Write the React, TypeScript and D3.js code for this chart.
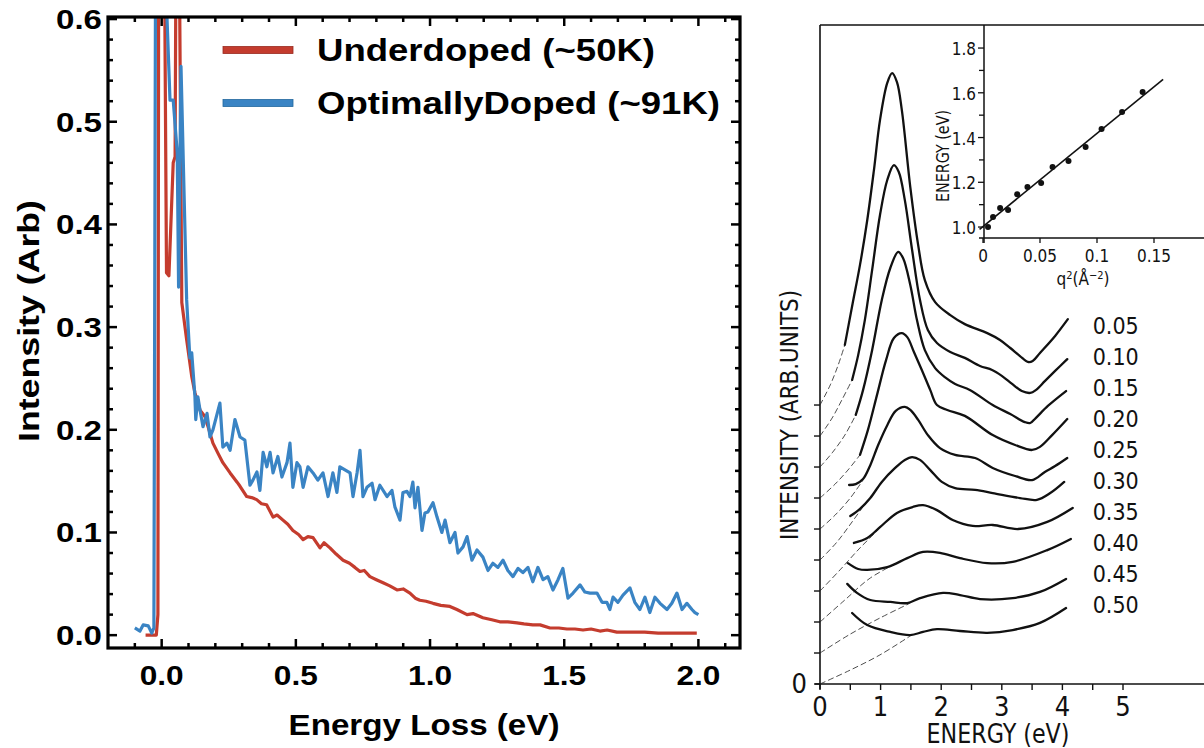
import React from "react";
import * as d3 from "d3";

// ---------------- Left panel data (Energy Loss eV, Intensity arb) ----------------
const underdoped: [number, number][] = [
  [-0.06, 0], [-0.04, 0], [-0.02, 0], [-0.014, 0.02], [-0.01, 0.95], [0.002, 1.0],
  [0.018, 0.353], [0.027, 0.35], [0.043, 0.46], [0.05, 0.466], [0.058, 0.95], [0.075, 0.324],
  [0.093, 0.288], [0.112, 0.252], [0.124, 0.236], [0.143, 0.219], [0.161, 0.213], [0.173, 0.203],
  [0.191, 0.187], [0.21, 0.177], [0.228, 0.168], [0.255, 0.158], [0.281, 0.149], [0.292, 0.145],
  [0.317, 0.135], [0.335, 0.134], [0.354, 0.132], [0.372, 0.128], [0.391, 0.127], [0.415, 0.115],
  [0.43, 0.117], [0.452, 0.112], [0.47, 0.108], [0.489, 0.102], [0.51, 0.098], [0.527, 0.093],
  [0.545, 0.096], [0.564, 0.095], [0.59, 0.085], [0.605, 0.09], [0.627, 0.085], [0.65, 0.079],
  [0.676, 0.073], [0.7, 0.07], [0.72, 0.066], [0.739, 0.062], [0.755, 0.063], [0.776, 0.057],
  [0.8, 0.054], [0.825, 0.051], [0.85, 0.048], [0.877, 0.044], [0.9, 0.045], [0.925, 0.041],
  [0.945, 0.036], [0.962, 0.034], [0.985, 0.033], [1.011, 0.031], [1.04, 0.029], [1.074, 0.028],
  [1.1, 0.025], [1.138, 0.02], [1.16, 0.021], [1.197, 0.017], [1.23, 0.015], [1.26, 0.013],
  [1.29, 0.013], [1.324, 0.012], [1.35, 0.011], [1.383, 0.01], [1.41, 0.01], [1.447, 0.007],
  [1.48, 0.007], [1.51, 0.006], [1.54, 0.006], [1.57, 0.005], [1.6, 0.006], [1.633, 0.004],
  [1.66, 0.005], [1.696, 0.003], [1.72, 0.003], [1.756, 0.003], [1.8, 0.003], [1.85, 0.002],
  [1.883, 0.002], [1.94, 0.002], [1.994, 0.002],
];

const optimallyDoped: [number, number][] = [
  [-0.1, 0.007], [-0.081, 0.004], [-0.069, 0.01], [-0.05, 0.009], [-0.037, 0.002], [-0.029, 0.007],
  [-0.02, 0.95], [0.0, 1.0], [0.012, 0.8], [0.02, 0.6], [0.031, 0.521], [0.043, 0.521],
  [0.058, 0.47], [0.063, 0.339], [0.072, 0.554], [0.093, 0.327], [0.105, 0.27], [0.112, 0.275],
  [0.124, 0.232], [0.127, 0.21], [0.135, 0.232], [0.143, 0.219], [0.154, 0.203], [0.169, 0.216],
  [0.18, 0.193], [0.191, 0.2], [0.217, 0.226], [0.228, 0.183], [0.243, 0.187], [0.255, 0.18],
  [0.273, 0.21], [0.292, 0.193], [0.31, 0.19], [0.329, 0.146], [0.34, 0.151], [0.355, 0.159],
  [0.366, 0.141], [0.378, 0.178], [0.392, 0.164], [0.404, 0.178], [0.415, 0.158], [0.433, 0.174],
  [0.448, 0.154], [0.467, 0.168], [0.478, 0.187], [0.489, 0.144], [0.504, 0.168], [0.515, 0.164],
  [0.527, 0.144], [0.545, 0.164], [0.564, 0.158], [0.582, 0.151], [0.601, 0.158], [0.62, 0.135],
  [0.638, 0.158], [0.653, 0.139], [0.664, 0.164], [0.683, 0.161], [0.702, 0.158], [0.713, 0.135],
  [0.728, 0.158], [0.739, 0.18], [0.75, 0.135], [0.765, 0.144], [0.784, 0.148], [0.795, 0.132],
  [0.813, 0.146], [0.84, 0.135], [0.858, 0.141], [0.869, 0.125], [0.888, 0.112], [0.899, 0.139],
  [0.914, 0.14], [0.925, 0.135], [0.936, 0.149], [0.944, 0.124], [0.955, 0.144], [0.97, 0.102],
  [0.981, 0.119], [0.992, 0.12], [1.011, 0.129], [1.026, 0.115], [1.044, 0.1], [1.056, 0.112],
  [1.074, 0.09], [1.093, 0.1], [1.104, 0.08], [1.123, 0.086], [1.138, 0.096], [1.156, 0.073],
  [1.175, 0.083], [1.197, 0.076], [1.216, 0.063], [1.234, 0.07], [1.253, 0.066], [1.272, 0.073],
  [1.29, 0.063], [1.309, 0.057], [1.328, 0.065], [1.346, 0.061], [1.365, 0.066], [1.383, 0.052],
  [1.402, 0.066], [1.421, 0.054], [1.439, 0.057], [1.458, 0.044], [1.477, 0.054], [1.495, 0.065],
  [1.514, 0.036], [1.533, 0.041], [1.559, 0.049], [1.577, 0.042], [1.596, 0.041], [1.622, 0.041],
  [1.641, 0.032], [1.659, 0.032], [1.67, 0.025], [1.682, 0.037], [1.7, 0.032], [1.719, 0.039],
  [1.745, 0.046], [1.763, 0.032], [1.782, 0.025], [1.801, 0.037], [1.819, 0.022], [1.838, 0.037],
  [1.857, 0.031], [1.883, 0.025], [1.901, 0.031], [1.92, 0.041], [1.939, 0.025], [1.957, 0.031],
  [1.976, 0.025], [1.987, 0.022], [2.0, 0.02],
];

const leftXTickLabels = ["0.0", "0.5", "1.0", "1.5", "2.0"];
const leftYTickLabels = ["0.0", "0.1", "0.2", "0.3", "0.4", "0.5", "0.6"];
const legendLabels = ["Underdoped (~50K)", "OptimallyDoped (~91K)"];
const legendColors = ["#c43c2e", "#3a84c4"];

// ---------------- Right panel data (ENERGY eV, intensity arb. units, offset) ----------------
const qLabels = ["0.05", "0.10", "0.15", "0.20", "0.25", "0.30", "0.35", "0.40", "0.45", "0.50"];
const curveBaselines = [9, 8, 7, 6, 5, 4, 3, 2, 1, 0];

const spectrumQ005: [number, number][] = [
  [0.41, 10.94], [0.54, 12.29], [0.66, 13.52], [0.78, 14.97], [0.89, 16.58], [0.99, 18.19],
  [1.11, 19.39], [1.19, 19.71], [1.27, 19.42], [1.35, 18.52], [1.49, 16.03], [1.62, 14.16],
  [1.73, 13.03], [1.9, 12.32], [2.15, 11.9], [2.39, 11.61], [2.76, 11.32], [2.97, 11.1],
  [3.14, 10.84], [3.3, 10.58], [3.43, 10.39], [3.51, 10.42], [3.63, 10.68], [3.88, 11.23], [4.09, 11.77],
];
const spectrumQ010: [number, number][] = [
  [0.53, 9.81], [0.63, 10.61], [0.74, 11.74], [0.86, 13.35], [0.99, 15.13], [1.11, 16.26],
  [1.22, 16.74], [1.3, 16.52], [1.4, 15.61], [1.52, 14.0], [1.65, 12.39], [1.78, 11.42],
  [1.93, 11.0], [2.15, 10.71], [2.39, 10.52], [2.64, 10.26], [2.84, 10.13], [3.0, 9.94],
  [3.17, 9.68], [3.33, 9.45], [3.47, 9.39], [3.56, 9.48], [3.71, 9.77], [3.88, 10.1], [4.08, 10.48],
];
const spectrumQ015: [number, number][] = [
  [0.59, 8.68], [0.71, 9.48], [0.86, 10.77], [1.02, 12.39], [1.16, 13.42], [1.29, 13.94],
  [1.37, 13.74], [1.49, 12.87], [1.6, 11.74], [1.73, 10.77], [1.9, 10.19], [2.06, 9.9],
  [2.23, 9.68], [2.48, 9.48], [2.85, 9.0], [3.14, 8.71], [3.38, 8.45], [3.47, 8.42],
  [3.56, 8.58], [3.76, 8.97], [4.06, 9.45],
];
const spectrumQ020: [number, number][] = [
  [0.66, 7.39], [0.79, 8.19], [0.94, 9.32], [1.09, 10.45], [1.22, 11.16], [1.35, 11.32],
  [1.44, 11.19], [1.55, 10.71], [1.68, 10.13], [1.82, 9.48], [1.93, 9.0], [2.1, 8.84],
  [2.39, 8.65], [2.85, 8.03], [3.22, 7.71], [3.5, 7.55], [3.63, 7.65], [3.83, 8.03], [4.08, 8.55],
];
const spectrumQ025: [number, number][] = [
  [0.48, 6.42], [0.59, 6.45], [0.71, 6.61], [0.83, 7.06], [0.96, 7.71], [1.11, 8.35],
  [1.25, 8.81], [1.4, 8.94], [1.49, 8.84], [1.62, 8.52], [1.78, 8.03], [1.98, 7.61],
  [2.23, 7.39], [2.56, 7.29], [2.85, 6.97], [3.22, 6.71], [3.5, 6.58], [3.71, 6.84],
  [3.88, 7.03], [4.08, 7.29],
];
const spectrumQ030: [number, number][] = [
  [0.5, 5.42], [0.66, 5.65], [0.83, 6.0], [1.02, 6.52], [1.24, 6.97], [1.4, 7.23],
  [1.52, 7.32], [1.65, 7.23], [1.82, 6.9], [2.01, 6.52], [2.23, 6.32], [2.56, 6.26],
  [2.85, 6.16], [3.3, 6.0], [3.58, 5.94], [3.8, 6.16], [4.03, 6.52],
];
const spectrumQ035: [number, number][] = [
  [0.56, 4.55], [0.78, 4.71], [0.99, 5.06], [1.27, 5.52], [1.53, 5.71], [1.7, 5.77],
  [1.93, 5.61], [2.19, 5.29], [2.52, 5.1], [2.85, 5.13], [3.27, 5.0], [3.75, 5.23], [4.17, 5.68],
];
const spectrumQ040: [number, number][] = [
  [0.46, 3.9], [0.63, 3.71], [0.78, 3.68], [1.11, 3.77], [1.44, 4.06], [1.7, 4.26],
  [1.98, 4.23], [2.31, 4.06], [2.76, 3.9], [3.18, 3.94], [3.75, 4.32], [4.14, 4.68],
];
const spectrumQ045: [number, number][] = [
  [0.45, 3.23], [0.61, 2.94], [0.83, 2.71], [1.16, 2.65], [1.44, 2.61], [1.65, 2.77],
  [2.03, 2.94], [2.31, 2.87], [2.64, 2.74], [3.18, 2.77], [3.63, 2.97], [4.06, 3.39],
];
const spectrumQ050: [number, number][] = [
  [0.53, 2.29], [0.78, 1.9], [1.16, 1.68], [1.49, 1.58], [1.7, 1.68], [1.93, 1.77],
  [2.31, 1.71], [2.76, 1.65], [3.18, 1.74], [3.63, 1.97], [4.06, 2.45],
];

const backgroundQ005: [number, number][] = [[0, 9], [0.17, 9.65], [0.3, 10.29], [0.41, 10.94]];
const backgroundQ010: [number, number][] = [[0, 8], [0.2, 8.58], [0.36, 9.16], [0.53, 9.81]];
const backgroundQ015: [number, number][] = [[0, 7], [0.21, 7.48], [0.41, 8.03], [0.59, 8.68]];
const backgroundQ020: [number, number][] = [[0, 6], [0.25, 6.45], [0.46, 6.9], [0.66, 7.39]];
const backgroundQ025: [number, number][] = [[0, 5], [0.25, 5.45], [0.5, 6.0], [0.71, 6.58]];
const backgroundQ030: [number, number][] = [[0, 4], [0.28, 4.58], [0.53, 5.23], [0.79, 5.94]];
const backgroundQ035: [number, number][] = [[0, 3], [0.33, 3.68], [0.66, 4.39], [0.96, 4.97]];
const backgroundQ040: [number, number][] = [[0, 2], [0.41, 2.71], [0.83, 3.42], [1.37, 4.0]];
const backgroundQ045: [number, number][] = [[0, 1], [0.5, 1.61], [0.99, 2.13], [1.49, 2.61]];
const backgroundQ050: [number, number][] = [[0, 0], [0.5, 0.45], [0.99, 0.94], [1.49, 1.55]];

const rightXTickLabels = ["0", "1", "2", "3", "4", "5"];

// Inset: plasmon energy vs q^2
const insetQ2 = [0.0044, 0.0088, 0.015, 0.022, 0.03, 0.039, 0.051, 0.061, 0.075, 0.09, 0.104, 0.122, 0.14];
const insetEnergy = [1.0, 1.045, 1.085, 1.076, 1.147, 1.179, 1.197, 1.268, 1.295, 1.358, 1.438, 1.514, 1.603];
const insetFit: [number, number][] = [[-0.003, 0.99], [0.158, 1.66]];
const insetYTickLabels = ["1.0", "1.2", "1.4", "1.6", "1.8"];
const insetXTickLabels = ["0", "0.05", "0.1", "0.15"];

const BOLD = "'Liberation Sans', Arial, Helvetica, sans-serif";
const NARROW = "'Liberation Sans Narrow', 'DejaVu Sans Condensed', 'Liberation Sans', sans-serif";

export default function App() {
  // ---- left scales ----
  const xL = d3.scaleLinear().domain([-0.2, 2.155]).range([108, 740]);
  const yL = d3.scaleLinear().domain([-0.0125, 0.602]).range([648, 17]);
  const lineL = d3.line<[number, number]>().x((d) => xL(d[0])).y((d) => yL(d[1]));

  const xMinor = d3.range(-1, 22).map((i) => i / 10);
  const yMinor = d3.range(0, 31).map((i) => i / 50);

  // ---- right scales ----
  const xR = d3.scaleLinear().domain([0, 6.35]).range([820, 820 + 6.35 * 60.6]);
  const yR = d3.scaleLinear().domain([0, 21.26]).range([684, 25]);
  const smooth = d3
    .line<[number, number]>()
    .x((d) => xR(d[0]))
    .y((d) => yR(d[1]))
    .curve(d3.curveCatmullRom.alpha(0.5));

  const spectra = [
    spectrumQ005, spectrumQ010, spectrumQ015, spectrumQ020, spectrumQ025,
    spectrumQ030, spectrumQ035, spectrumQ040, spectrumQ045, spectrumQ050,
  ];
  const backgrounds = [
    backgroundQ005, backgroundQ010, backgroundQ015, backgroundQ020, backgroundQ025,
    backgroundQ030, backgroundQ035, backgroundQ040, backgroundQ045, backgroundQ050,
  ];

  // ---- inset scales ----
  const xI = d3.scaleLinear().domain([0, 0.194]).range([983, 983 + 0.194 * 1140]);
  const yI = d3.scaleLinear().domain([0.951, 1.903]).range([238, 25]);
  const lineI = d3.line<[number, number]>().x((d) => xI(d[0])).y((d) => yI(d[1]));

  const series = [underdoped, optimallyDoped];

  return (
    <svg
      width={1204}
      height={748}
      style={{ position: "absolute", left: 0, top: 0, background: "#fff" }}
    >
      <rect x={0} y={0} width={1204} height={748} fill="#fff" />
      <defs>
        <clipPath id="leftClip">
          <rect x={108} y={17} width={632} height={631} />
        </clipPath>
      </defs>

      {/* ================= LEFT PANEL ================= */}
      <g clipPath="url(#leftClip)">
        {series.map((s, i) => (
          <path
            key={i}
            d={lineL(s) || ""}
            fill="none"
            stroke={legendColors[i]}
            strokeWidth={3.2}
            strokeLinejoin="round"
          />
        ))}
      </g>

      {/* ticks */}
      <g stroke="#000" strokeWidth={2.5}>
        {xMinor.map((v, i) => {
          const major = Math.abs(v * 2 - Math.round(v * 2)) < 1e-6;
          const len = major ? 9 : 5;
          const x = xL(v);
          return (
            <g key={"xt" + i}>
              <line x1={x} x2={x} y1={648} y2={648 - len} />
              <line x1={x} x2={x} y1={17} y2={17 + len} />
            </g>
          );
        })}
        {yMinor.map((v, i) => {
          const major = i % 5 === 0;
          const len = major ? 9 : 5;
          const y = yL(v);
          return (
            <g key={"yt" + i}>
              <line x1={108} x2={108 + len} y1={y} y2={y} />
              <line x1={740} x2={740 - len} y1={y} y2={y} />
            </g>
          );
        })}
      </g>

      <rect x={108} y={17} width={632} height={631} fill="none" stroke="#000" strokeWidth={3.2} />

      {/* tick labels */}
      <g fontFamily={BOLD} fontWeight="bold" fontSize={28} fill="#000">
        {leftXTickLabels.map((t) => (
          <text
            key={t}
            x={xL(+t)}
            y={685}
            textAnchor="middle"
            textLength={44}
            lengthAdjust="spacingAndGlyphs"
          >
            {t}
          </text>
        ))}
        {leftYTickLabels.map((t) => (
          <text
            key={t}
            x={102}
            y={yL(+t) + 10}
            textAnchor="end"
            textLength={46}
            lengthAdjust="spacingAndGlyphs"
          >
            {t}
          </text>
        ))}
      </g>

      {/* axis titles */}
      <text
        x={424}
        y={735}
        textAnchor="middle"
        fontFamily={BOLD}
        fontWeight="bold"
        fontSize={30}
        textLength={271}
        lengthAdjust="spacingAndGlyphs"
      >
        Energy Loss (eV)
      </text>
      <text
        transform="translate(39,321) rotate(-90)"
        textAnchor="middle"
        fontFamily={BOLD}
        fontWeight="bold"
        fontSize={30}
        textLength={242}
        lengthAdjust="spacingAndGlyphs"
      >
        Intensity (Arb)
      </text>

      {/* legend */}
      {legendLabels.map((lab, i) => {
        const cy = 50 + i * 53;
        return (
          <g key={lab}>
            <rect
              x={223}
              y={cy - 3.5}
              width={70}
              height={7}
              fill={legendColors[i]}
              stroke={i === 0 ? "#9a2a20" : "#22689f"}
              strokeWidth={0.8}
            />
            <text
              x={317}
              y={cy + 11}
              fontFamily={BOLD}
              fontWeight="bold"
              fontSize={31}
              textLength={i === 0 ? 338 : 403}
              lengthAdjust="spacingAndGlyphs"
            >
              {lab}
            </text>
          </g>
        );
      })}

      {/* ================= RIGHT PANEL ================= */}
      {/* frame lines */}
      <g stroke="#111" strokeWidth={1.6} fill="none">
        <line x1={820} x2={820} y1={25} y2={689} />
        <line x1={815} x2={1204} y1={684} y2={684} />
        <line x1={820} x2={1204} y1={25} y2={25} />
      </g>

      {/* x ticks */}
      <g stroke="#111" strokeWidth={1.4}>
        {d3.range(0, 11).map((i) => {
          const x = xR(i / 2);
          return <line key={"rxt" + i} x1={x} x2={x} y1={684} y2={690} />;
        })}
        {curveBaselines.map((b) => (
          <line key={"ryt" + b} x1={814} x2={820} y1={yR(b)} y2={yR(b)} />
        ))}
      </g>

      <g fontFamily={NARROW} fontSize={27} fill="#111">
        {rightXTickLabels.map((t) => (
          <text key={t} x={xR(+t)} y={716} textAnchor="middle">
            {t}
          </text>
        ))}
        <text x={807} y={693} textAnchor="end">
          0
        </text>
      </g>

      <text
        x={998}
        y={743}
        textAnchor="middle"
        fontFamily={NARROW}
        fontSize={26}
        fill="#111"
        textLength={143}
        lengthAdjust="spacingAndGlyphs"
      >
        ENERGY (eV)
      </text>
      <text
        transform="translate(798,415) rotate(-90)"
        textAnchor="middle"
        fontFamily={NARROW}
        fontSize={25}
        fill="#111"
        textLength={250}
        lengthAdjust="spacingAndGlyphs"
      >
        INTENSITY (ARB.UNITS)
      </text>

      {/* background extrapolations (dashed) */}
      <g fill="none" stroke="#222" strokeWidth={0.8} strokeDasharray="6,3">
        {backgrounds.map((bg, i) => (
          <path key={"bg" + i} d={smooth(bg) || ""} />
        ))}
      </g>
      {/* spectra */}
      <g fill="none" stroke="#111" strokeWidth={2.3} strokeLinecap="round" strokeLinejoin="round">
        {spectra.map((s, i) => (
          <path key={"sp" + i} d={smooth(s) || ""} />
        ))}
      </g>

      {/* q labels */}
      <g fontFamily={NARROW} fontSize={23} fill="#111">
        {qLabels.map((q, i) => (
          <text key={q} x={xR(4.5)} y={yR(curveBaselines[i] + 2.3)}>
            {q}
          </text>
        ))}
      </g>

      {/* ================= INSET ================= */}
      <g stroke="#111" strokeWidth={1.5} fill="none">
        <line x1={984} x2={984} y1={25} y2={243} />
        <line x1={979} x2={1204} y1={238} y2={238} />
      </g>
      <g stroke="#111" strokeWidth={1.3}>
        {d3.range(10, 19).map((i) => {
          const y = yI(i / 10);
          return <line key={"iyt" + i} x1={i % 2 === 0 ? 978 : 979} x2={984} y1={y} y2={y} />;
        })}
        {insetXTickLabels.map((t) => (
          <line key={"ixt" + t} x1={xI(+t)} x2={xI(+t)} y1={238} y2={243} />
        ))}
      </g>
      <g fontFamily={NARROW} fontSize={17} fill="#111">
        {insetYTickLabels.map((t) => (
          <text key={t} x={976} y={yI(+t) + 7} textAnchor="end">
            {t}
          </text>
        ))}
        {insetXTickLabels.map((t) => (
          <text key={t} x={xI(+t)} y={262} textAnchor="middle">
            {t}
          </text>
        ))}
        <text x={1083} y={285} textAnchor="middle">
          q
          <tspan dy={-6} fontSize={11}>2</tspan>
          <tspan dy={6}>(Å</tspan>
          <tspan dy={-6} fontSize={11}>−2</tspan>
          <tspan dy={6}>)</tspan>
        </text>
        <text
          transform="translate(949,156) rotate(-90)"
          textAnchor="middle"
          textLength={92}
          lengthAdjust="spacingAndGlyphs"
        >
          ENERGY (eV)
        </text>
      </g>
      <path d={lineI(insetFit) || ""} stroke="#111" strokeWidth={1.6} fill="none" />
      <g fill="#111">
        {insetQ2.map((q, i) => (
          <circle key={"pt" + i} cx={xI(q)} cy={yI(insetEnergy[i])} r={3} />
        ))}
      </g>
    </svg>
  );
}
